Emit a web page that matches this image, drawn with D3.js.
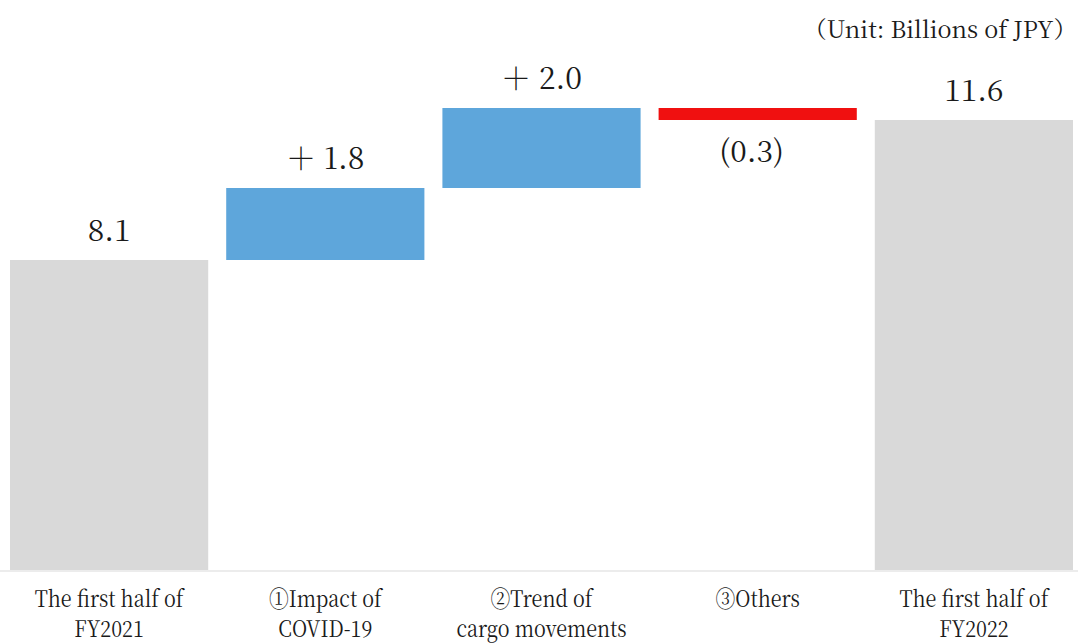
<!DOCTYPE html>
<html>
<head>
<meta charset="utf-8">
<script src="https://cdn.jsdelivr.net/npm/d3@7"></script>
<style>
  body { margin: 0; background: #fff; }
</style>
</head>
<body>
<div id="Vis"></div>
<script>
// chart data
var categories = ["FY2021H1", "COVID", "Cargo", "Others", "FY2022H1"];
var categoryLines = [
  ["The first half of", "FY2021"],
  ["\u2460Impact of", "COVID-19"],
  ["\u2461Trend of", "cargo movements"],
  ["\u2462Others"],
  ["The first half of", "FY2022"]
];
var values = [8.1, 1.8, 2.0, -0.3, 11.6];
var kinds = ["total", "delta", "delta", "delta", "total"];
var valueLabels = ["8.1", "\uff0b 1.8", "\uff0b 2.0", "(0.3)", "11.6"];
var unitLabel = "\uff08Unit: Billions of JPY\uff09";

var width = 1078, height = 643;
var yMin = 0.35;
var serif = "'Noto Serif CJK JP', 'Noto Serif CJK SC', serif";

// running totals for the waterfall
var running = 0;
var bars = values.map(function(v, i) {
  var d = {cat: categories[i], kind: kinds[i], value: v, label: valueLabels[i], lines: categoryLines[i]};
  if (kinds[i] === "total") {
    d.start = yMin; d.end = v; running = v;
  } else {
    d.start = running; d.end = running + v; running = d.end;
  }
  return d;
});

var svg = d3.select("#Vis")
  .append("svg")
    .attr("width", width)
    .attr("height", height)
    .style("font-family", serif);

var x = d3.scaleBand()
  .domain(categories)
  .range([1, 1082])
  .paddingInner(0.0833)
  .paddingOuter(0.0417);

var y = d3.scaleLinear()
  .domain([yMin, 12])
  .range([570, 104]);

// baseline
svg.append("line")
  .attr("x1", 0).attr("x2", width)
  .attr("y1", y(yMin) + 1).attr("y2", y(yMin) + 1)
  .attr("stroke", "#e6e6e6")
  .attr("stroke-width", 1.5);

function barColor(d) {
  if (d.kind === "total") return "#d9d9d9";
  return d.value >= 0 ? "#5ea6db" : "#f01010";
}

// bars
svg.selectAll(".bar")
  .data(bars)
  .enter().append("rect")
    .attr("class", "bar")
    .attr("x", function(d) { return x(d.cat); })
    .attr("width", x.bandwidth())
    .attr("y", function(d) { return y(Math.max(d.start, d.end)); })
    .attr("height", function(d) { return Math.abs(y(d.start) - y(d.end)); })
    .attr("fill", barColor);

// value labels
svg.selectAll(".val")
  .data(bars)
  .enter().append("text")
    .attr("class", "val")
    .attr("x", function(d) {
      var cx = x(d.cat) + x.bandwidth() / 2;
      return d.value < 0 ? cx - 6 : cx;
    })
    .attr("y", function(d) {
      if (d.value < 0) return y(Math.min(d.start, d.end)) + 42;
      return y(Math.max(d.start, d.end)) - 19;
    })
    .attr("text-anchor", "middle")
    .attr("font-family", serif)
    .attr("font-size", "30px")
    .attr("fill", "#1a1a1a")
    .text(function(d) { return d.label; });

// category labels (condensed like the original)
var cat = svg.selectAll(".cat")
  .data(bars)
  .enter().append("g")
    .attr("class", "cat")
    .attr("transform", function(d) {
      return "translate(" + (x(d.cat) + x.bandwidth() / 2) + ",607) scale(0.86,1)";
    });

cat.selectAll("text")
  .data(function(d) { return d.lines; })
  .enter().append("text")
    .attr("x", 0)
    .attr("y", function(d, i) { return i * 30; })
    .attr("text-anchor", "middle")
    .attr("font-family", serif)
    .attr("font-size", "23px")
    .attr("fill", "#1a1a1a")
    .text(function(d) { return d; });

// unit label
svg.append("text")
  .attr("transform", "translate(1077,38)")
  .attr("text-anchor", "end")
  .attr("font-family", serif)
  .attr("font-size", "23.5px")
  .attr("fill", "#1a1a1a")
  .text(unitLabel);
</script>
</body>
</html>
